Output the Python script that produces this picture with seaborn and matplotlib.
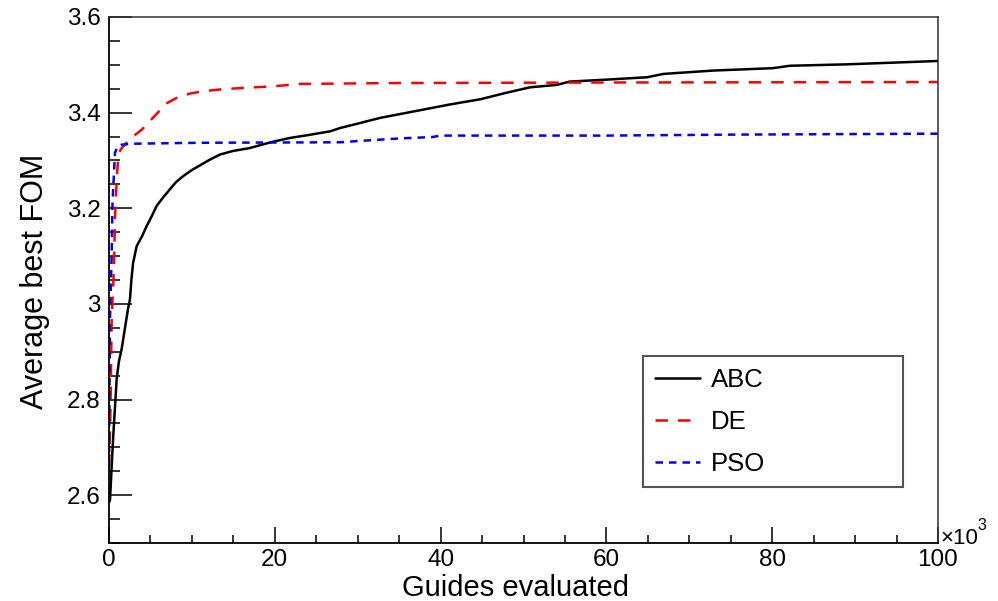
import numpy as np
import pandas as pd
import matplotlib
matplotlib.use("Agg")
import matplotlib.pyplot as plt
import seaborn as sns
from matplotlib.ticker import MultipleLocator, FuncFormatter

# ---- data (x in thousands of guides evaluated) ----
abc_x = [0, 0.12, 0.5, 0.93, 1.2, 1.53, 1.93, 2.3, 2.53, 2.7, 2.9, 3.34, 4.0, 4.55, 5.2,
         5.75, 6.5, 7.36, 8.1, 8.93, 10.0, 11.0, 12.2, 13.4, 15.0, 17.0, 19.5, 21.8,
         24.0, 26.7, 27.9, 30.0, 32.7, 36.3, 41.1, 44.8, 47.8, 50.8, 54.0, 55.6, 60.0,
         64.9, 66.9, 72.9, 80.1, 82.1, 89.0, 100.0]
abc_y = [2.585, 2.59, 2.72, 2.844, 2.88, 2.906, 2.95, 2.99, 3.01, 3.05, 3.085, 3.121,
         3.142, 3.163, 3.185, 3.205, 3.222, 3.24, 3.255, 3.267, 3.28, 3.29, 3.302,
         3.3125, 3.32, 3.326, 3.338, 3.347, 3.353, 3.361, 3.368, 3.377, 3.389, 3.401,
         3.417, 3.428, 3.441, 3.453, 3.458, 3.465, 3.469, 3.474, 3.481, 3.488, 3.493,
         3.498, 3.501, 3.508]

de_x = [0, 0.15, 0.33, 0.6, 0.72, 0.93, 1.12, 1.41, 2.0, 2.9, 4.0, 4.9, 6.0, 7.0, 8.3,
        9.8, 11.5, 13.7, 16.5, 19.8, 23.0, 35.0, 60.0, 100.0]
de_y = [2.66, 2.75, 2.97, 3.073, 3.177, 3.26, 3.309, 3.323, 3.335, 3.35, 3.365, 3.382,
        3.402, 3.42, 3.432, 3.44, 3.445, 3.449, 3.452, 3.455, 3.46, 3.462, 3.463, 3.464]

pso_x = [0, 0.12, 0.33, 0.42, 0.72, 1.0, 1.53, 2.9, 11.0, 28.0, 29.5, 35.0, 39.0, 40.0,
         60.0, 75.0, 100.0]
pso_y = [2.66, 2.969, 3.108, 3.21, 3.316, 3.328, 3.333, 3.335, 3.337, 3.338, 3.34,
         3.346, 3.349, 3.352, 3.352, 3.354, 3.356]

series_names = ["ABC", "DE", "PSO"]
series_colors = {"ABC": "black", "DE": "#ff0000", "PSO": "#0000ff"}

x_label = "Guides evaluated"
y_label = "Average best FOM"

df = pd.concat([
    pd.DataFrame({"x": abc_x, "y": abc_y, "algo": "ABC"}),
    pd.DataFrame({"x": de_x, "y": de_y, "algo": "DE"}),
    pd.DataFrame({"x": pso_x, "y": pso_y, "algo": "PSO"}),
], ignore_index=True)

sns.set_style("white")
plt.rcParams["font.family"] = ["Liberation Sans", "DejaVu Sans"]
plt.rcParams["text.color"] = "black"
plt.rcParams["xtick.color"] = "black"
plt.rcParams["ytick.color"] = "black"

fig = plt.figure(figsize=(9.98, 6.01), dpi=100)
ax = fig.add_axes([109 / 998, 1 - 543 / 601, (938 - 109) / 998, (543 - 17) / 601])

sns.lineplot(data=df, x="x", y="y", hue="algo", style="algo",
             hue_order=series_names, style_order=series_names,
             palette=series_colors,
             dashes={"ABC": "", "DE": (5.0, 4.0), "PSO": (3.0, 2.4)},
             estimator=None, sort=False, linewidth=1.8, ax=ax)

ax.set_xlim(0, 100)
ax.set_ylim(2.5, 3.6)
ax.set_xlabel("")
ax.set_ylabel("")

ax.xaxis.set_major_locator(MultipleLocator(20))
ax.xaxis.set_minor_locator(MultipleLocator(5))
ax.yaxis.set_major_locator(MultipleLocator(0.2))
ax.yaxis.set_minor_locator(MultipleLocator(0.05))
ax.yaxis.set_major_formatter(FuncFormatter(lambda v, p: "%g" % round(v, 3)))
ax.xaxis.set_major_formatter(FuncFormatter(lambda v, p: "%g" % v))

ax.tick_params(axis="both", which="both", direction="in", colors="black",
               labelcolor="black", labelsize=17.5, top=False, right=False,
               bottom=True, left=True)
ax.tick_params(axis="y", which="major", length=16.5, width=1.1, pad=6)
ax.tick_params(axis="y", which="minor", length=8, width=1.1)
ax.tick_params(axis="x", which="major", length=11.5, width=1.1, pad=4)
ax.tick_params(axis="x", which="minor", length=5.8, width=1.1)

for s in ["left", "bottom"]:
    ax.spines[s].set_color("black")
    ax.spines[s].set_linewidth(1.3)
for s in ["top", "right"]:
    ax.spines[s].set_color("#333333")
    ax.spines[s].set_linewidth(1.1)

fig.text(516 / 998, 1 - 596 / 601, x_label, ha="center", va="baseline", fontsize=21)
fig.text(35 / 998, 1 - 281 / 601, y_label, ha="center", va="center", fontsize=22,
         rotation=90)
fig.text(940 / 998, 1 - 538 / 601, "×10", ha="left", va="center", fontsize=16)
fig.text(977 / 998, 1 - 526 / 601, "3", ha="left", va="center", fontsize=11.5)

sns.move_legend(ax, loc="upper left",
                bbox_to_anchor=(534 / 829, 57 / 526, 260 / 829, 130 / 526),
                mode="expand", title=None, fontsize=18.5, frameon=True,
                fancybox=False, edgecolor="#555555", framealpha=1,
                borderaxespad=0, borderpad=0.45, labelspacing=0.7,
                handlelength=1.75, handletextpad=0.45)
leg = ax.get_legend()
leg.get_frame().set_linewidth(1.5)
for t in leg.get_texts():
    t.set_color("black")

fig.savefig("out.png", dpi=100)
